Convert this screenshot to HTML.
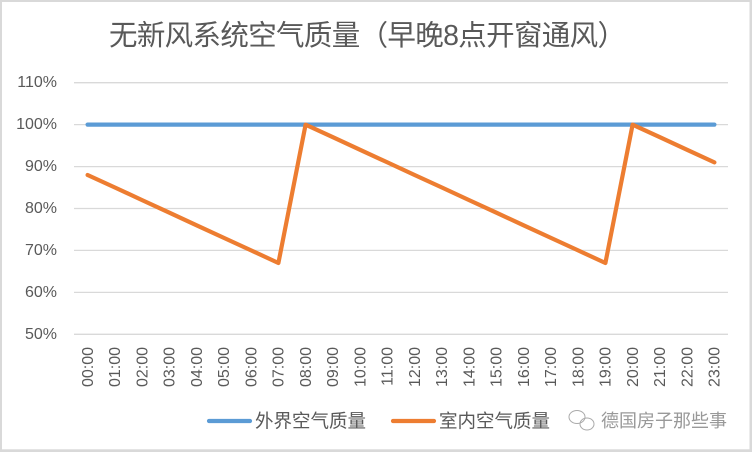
<!DOCTYPE html>
<html><head><meta charset="utf-8"><style>
html,body{margin:0;padding:0;background:#fff;}
svg{display:block;}
text{font-family:"Liberation Sans","Noto Sans CJK SC",sans-serif;}
</style></head><body>
<svg width="752" height="452" viewBox="0 0 752 452" xmlns="http://www.w3.org/2000/svg">
<rect x="0" y="0" width="752" height="452" fill="#d9d9d9"/>
<rect x="2" y="2" width="747.5" height="447.3" fill="#ffffff"/>
<text x="109" y="36" font-size="28.5" fill="#595959" textLength="517" lengthAdjust="spacing" dominant-baseline="central" font-family="Noto Sans CJK SC, sans-serif">无新风系统空气质量（早晚8点开窗通风）</text>
<g stroke="#d9d9d9" stroke-width="1.3">
<line x1="74" y1="82.7" x2="728" y2="82.7"/>
<line x1="74" y1="124.65" x2="728" y2="124.65"/>
<line x1="74" y1="166.6" x2="728" y2="166.6"/>
<line x1="74" y1="208.5" x2="728" y2="208.5"/>
<line x1="74" y1="250.4" x2="728" y2="250.4"/>
<line x1="74" y1="292.4" x2="728" y2="292.4"/>
<line x1="74" y1="334.3" x2="728" y2="334.3"/>
</g>
<g font-size="16" fill="#595959" text-anchor="end" dominant-baseline="central">
<text x="57" y="82.7">110%</text>
<text x="57" y="124.65">100%</text>
<text x="57" y="166.6">90%</text>
<text x="57" y="208.5">80%</text>
<text x="57" y="250.4">70%</text>
<text x="57" y="292.4">60%</text>
<text x="57" y="334.3">50%</text>
</g>
<g font-size="16" fill="#595959" text-anchor="end" dominant-baseline="central">
<text transform="translate(88.3,347) rotate(-90)">00:00</text>
<text transform="translate(115.5,347) rotate(-90)">01:00</text>
<text transform="translate(142.8,347) rotate(-90)">02:00</text>
<text transform="translate(170.0,347) rotate(-90)">03:00</text>
<text transform="translate(197.3,347) rotate(-90)">04:00</text>
<text transform="translate(224.5,347) rotate(-90)">05:00</text>
<text transform="translate(251.8,347) rotate(-90)">06:00</text>
<text transform="translate(279.0,347) rotate(-90)">07:00</text>
<text transform="translate(306.3,347) rotate(-90)">08:00</text>
<text transform="translate(333.5,347) rotate(-90)">09:00</text>
<text transform="translate(360.8,347) rotate(-90)">10:00</text>
<text transform="translate(388.0,347) rotate(-90)">11:00</text>
<text transform="translate(415.3,347) rotate(-90)">12:00</text>
<text transform="translate(442.5,347) rotate(-90)">13:00</text>
<text transform="translate(469.8,347) rotate(-90)">14:00</text>
<text transform="translate(497.0,347) rotate(-90)">15:00</text>
<text transform="translate(524.3,347) rotate(-90)">16:00</text>
<text transform="translate(551.5,347) rotate(-90)">17:00</text>
<text transform="translate(578.8,347) rotate(-90)">18:00</text>
<text transform="translate(606.0,347) rotate(-90)">19:00</text>
<text transform="translate(633.3,347) rotate(-90)">20:00</text>
<text transform="translate(660.5,347) rotate(-90)">21:00</text>
<text transform="translate(687.8,347) rotate(-90)">22:00</text>
<text transform="translate(715.0,347) rotate(-90)">23:00</text>
</g>
<line x1="87.6" y1="124.65" x2="714.4" y2="124.65" stroke="#5b9bd5" stroke-width="4.2" stroke-linecap="round"/>
<polyline fill="none" stroke="#ed7d31" stroke-width="4.2" stroke-linejoin="round" stroke-linecap="round"
points="87.6,175.0 114.9,187.5 142.1,200.1 169.4,212.7 196.6,225.3 223.9,237.9 251.1,250.4 278.4,263.0 305.6,124.65 332.9,137.2 360.1,149.8 387.4,162.4 414.6,175.0 441.9,187.5 469.1,200.1 496.4,212.7 523.6,225.3 550.9,237.9 578.1,250.4 605.4,263.0 632.6,124.65 659.9,137.2 687.1,149.8 714.4,162.4"/>
<line x1="209" y1="421" x2="250" y2="421" stroke="#5b9bd5" stroke-width="4.2" stroke-linecap="round"/>
<text x="255" y="421" font-size="18.5" fill="#595959" dominant-baseline="central" font-family="Noto Sans CJK SC, sans-serif">外界空气质量</text>
<line x1="393" y1="421" x2="434" y2="421" stroke="#ed7d31" stroke-width="4.2" stroke-linecap="round"/>
<text x="439" y="421" font-size="18.5" fill="#595959" dominant-baseline="central" font-family="Noto Sans CJK SC, sans-serif">室内空气质量</text>
<g fill="none" stroke="#aaaaaa" stroke-width="1">
<ellipse cx="577" cy="417" rx="8" ry="6.5"/>
<ellipse cx="587" cy="424" rx="7" ry="6"/>
</g>
<text x="601" y="421" font-size="18" fill="#999999" dominant-baseline="central" font-family="Noto Sans CJK SC, sans-serif">德国房子那些事</text>
</svg>
</body></html>
